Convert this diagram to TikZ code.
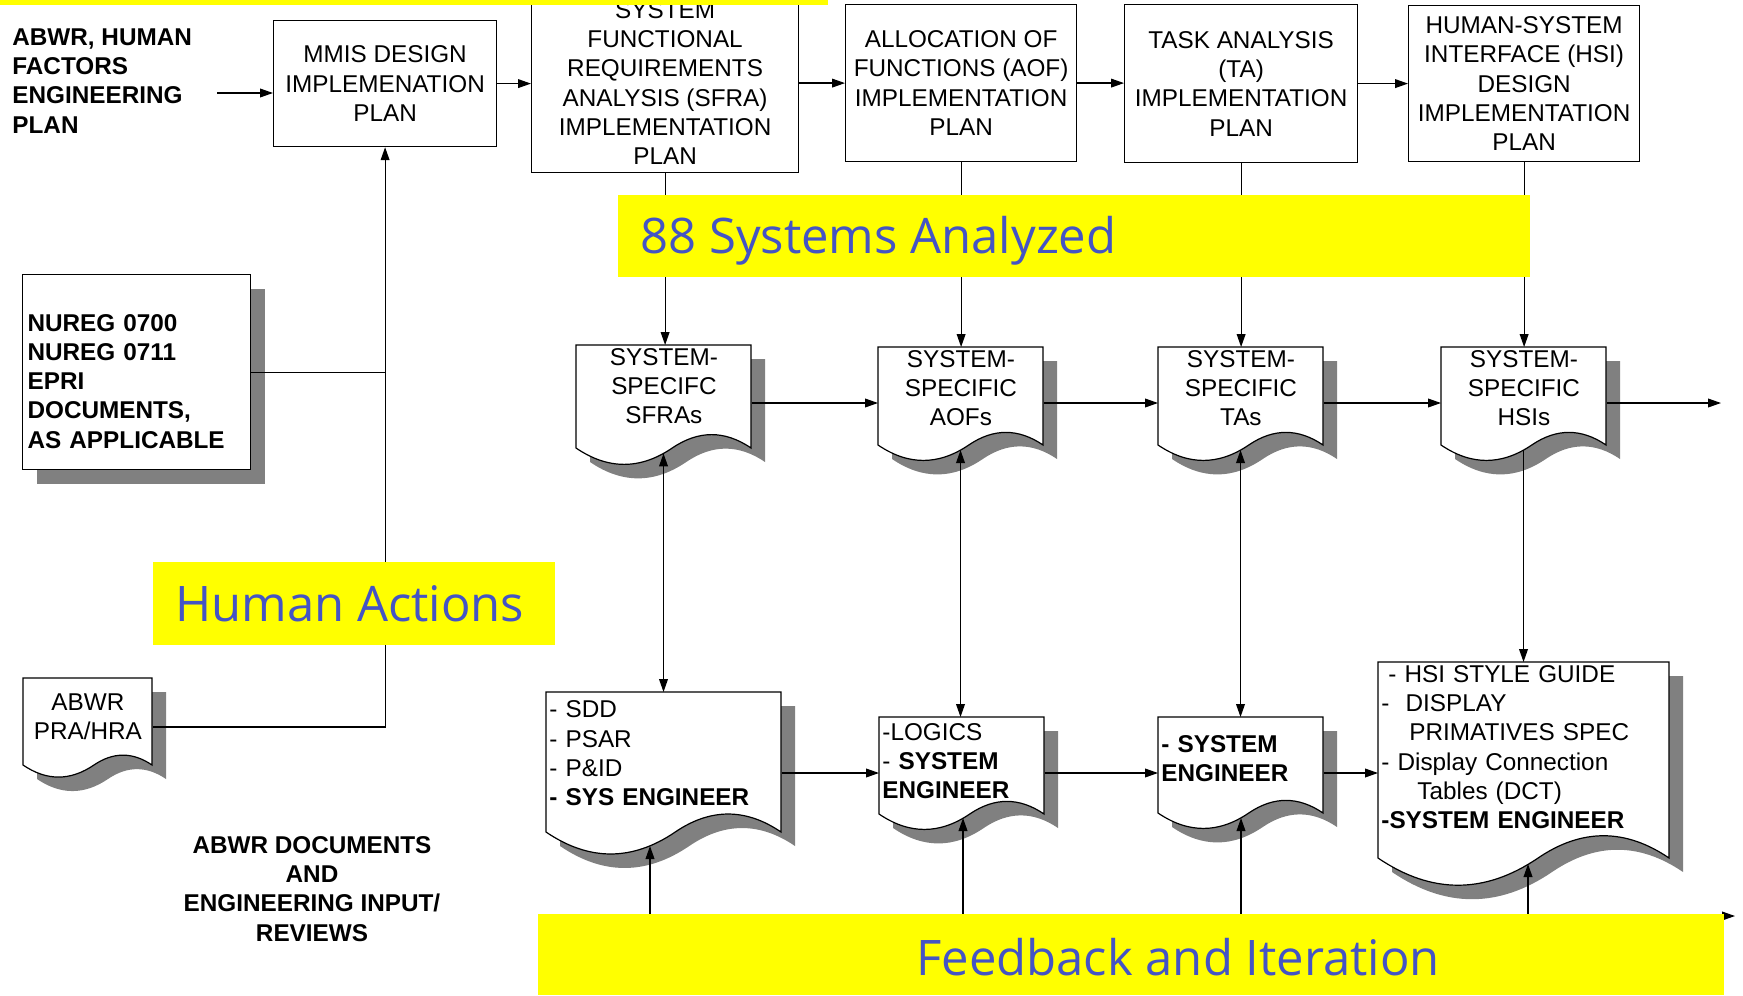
\documentclass[tikz,border=0pt]{standalone}
\usepackage{fontspec}
\setmainfont{Liberation Sans}
\newfontfamily\bandfamily{Open Sans}
\usetikzlibrary{arrows.meta,calc}

\definecolor{bandyellow}{RGB}{255,255,0}
\definecolor{bandblue}{RGB}{68,84,196}
\definecolor{docshadow}{RGB}{128,128,128}

\newcommand{\boxfont}{\fontsize{12.15pt}{14.65pt}\selectfont}
\newcommand{\bandfont}{\bandfamily\fontsize{24.5pt}{29pt}\selectfont}

\tikzset{
  conn/.style={line width=.6pt},
  arr/.style={conn,-{Triangle[length=6.5pt,width=4.4pt]}},
  arrboth/.style={conn,{Triangle[length=6.5pt,width=4.4pt]}-{Triangle[length=6.5pt,width=4.4pt]}},
  planbox/.style={draw,line width=.6pt,fill=white,align=center,anchor=north west,inner sep=0pt,font=\boxfont},
  docline/.style={draw,line width=.6pt,fill=white},
  docbox/.style={anchor=north west,inner xsep=1.5pt,inner ysep=1.5pt,font=\boxfont},
  band/.style={fill=bandyellow},
  bandtext/.style={anchor=base west,inner sep=0pt,text=bandblue,font=\bandfont},
}

% document shape: name, left, top, right, wave line, text
\newcommand{\docnode}[7][]{%
  \pgfmathsetmacro{\dw}{#5-#3}%
  \pgfmathsetmacro{\dj}{#3+0.55*\dw}%
  \pgfmathsetmacro{\hx}{0.15*\dw}%
  \pgfmathsetmacro{\hy}{0.6*\wavek*\dw}%
  \pgfmathsetmacro{\lx}{0.55*\dw/3}%
  \pgfmathsetmacro{\ly}{0.7333*\wavek*\dw}%
  \pgfmathsetmacro{\tw}{0.5*\dw-3}%
  \filldraw[docline,preaction={fill=docshadow,transform canvas={xshift=7pt,yshift=-7pt}}]
    (#3,#4) -- (#5,#4) -- (#5,#6)
    .. controls ({#5-\hx},{#6-\hy}) and ({\dj+\hx},{#6-\hy}) .. (\dj,#6)
    .. controls ({\dj-\lx},{#6+\ly}) and ({#3+\lx},{#6+\ly}) .. (#3,#6) -- cycle;
  \node[docbox,text width=\tw pt,#1] (#2) at (#3,#4) {#7};
  \coordinate (#2-wave) at ({(#3+#5)/2},{#6+0.1818*\wavek*\dw});
}

\begin{document}
\begin{tikzpicture}[x=0.5pt,y=-0.5pt]
    \pgfmathsetmacro{\wavek}{0.17}
    \clip (0,0) rectangle (1743,995);

    % plans
    \node[anchor=north west,inner sep=0pt,align=left,font=\boxfont\bfseries] (hfeplan) at (12,28) {ABWR, HUMAN\\FACTORS\\ENGINEERING\\PLAN};
    \node[planbox,minimum width=111.5pt,minimum height=63pt] (mmis) at (273,20) {MMIS DESIGN\\IMPLEMENATION\\PLAN};
    \node[planbox,minimum width=133.5pt,minimum height=89.5pt] (sfra) at (531,-7) {SYSTEM\\FUNCTIONAL\\REQUIREMENTS\\ANALYSIS (SFRA)\\IMPLEMENTATION\\PLAN};
    \node[planbox,minimum width=115.5pt,minimum height=78.5pt] (aof) at (845,4) {ALLOCATION OF\\FUNCTIONS (AOF)\\IMPLEMENTATION\\PLAN};
    \node[planbox,minimum width=116.5pt,minimum height=79pt] (ta) at (1124,4) {TASK ANALYSIS\\(TA)\\IMPLEMENTATION\\PLAN};
    \node[planbox,minimum width=115.5pt,minimum height=78pt] (hsi) at (1408,5) {HUMAN-SYSTEM\\INTERFACE (HSI)\\DESIGN\\IMPLEMENTATION\\PLAN};

    \node[planbox,align=left,inner xsep=2.5pt,text width=109pt,minimum width=114pt,minimum height=97.5pt,font=\boxfont\bfseries,
      preaction={fill=docshadow,transform canvas={xshift=7pt,yshift=-7pt}}] (nureg) at (22,274)
      {\rule{0pt}{17.7pt}NUREG 0700\\NUREG 0711\\EPRI\\DOCUMENTS,\\AS APPLICABLE};

    % documents
    \docnode[align=center]{sfras}{576}{345}{751}{448}{SYSTEM-\\SPECIFC\\SFRAs}
    \docnode[align=center]{aofs}{878}{347}{1043}{445}{SYSTEM-\\SPECIFIC\\AOFs}
    \docnode[align=center]{tas}{1158}{347}{1323}{445}{SYSTEM-\\SPECIFIC\\TAs}
    \docnode[align=center]{hsis}{1441}{347}{1606}{445}{SYSTEM-\\SPECIFIC\\HSIs}
    \docnode[align=center,inner ysep=7.5pt]{prahra}{23}{678}{152}{765}{ABWR\\PRA/HRA}
    \docnode[align=left,inner ysep=4.3pt]{sdd}{546}{692}{781}{832}{- SDD\\- PSAR\\- P\&ID\\\textbf{- SYS ENGINEER}}
    \docnode[align=left,inner ysep=3pt]{logics}{879}{717}{1044}{814}{-LOGICS\\- \textbf{SYSTEM}\\\textbf{ENGINEER}}
    \docnode[align=left,inner ysep=9pt]{syseng}{1158}{717}{1323}{813}{\textbf{- SYSTEM}\\\textbf{ENGINEER}}
    \docnode[align=left]{hsiguide}{1378}{662}{1669}{858}{\hspace*{3.5pt}- HSI STYLE GUIDE\\-\ \ DISPLAY\\\hspace*{14pt}PRIMATIVES SPEC\\- Display Connection\\\hspace*{18pt}Tables (DCT)\\\textbf{-SYSTEM ENGINEER}}

    \node[anchor=north,inner sep=0pt,align=center,font=\boxfont\bfseries] (abwrdocs) at (312,836) {ABWR DOCUMENTS\\AND\\ENGINEERING INPUT/\\REVIEWS};

    % top row
    \coordinate (hfe-out) at (217,93);
    \draw[arr] (hfe-out) -- (hfe-out -| mmis.west);
    \draw[arr] (mmis.east) -- (mmis.east -| sfra.west);
    \draw[arr] (sfra.east) -- (sfra.east -| aof.west);
    \draw[arr] (aof.east) -- (aof.east -| ta.west);
    \draw[arr] (ta.east) -- (ta.east -| hsi.west);
    \draw[arr] (sfra.south) -- (sfra.south |- sfras.north);
    \draw[arr] (aof.south) -- (aof.south |- aofs.north);
    \draw[arr] (ta.south) -- (ta.south |- tas.north);
    \draw[arr] (hsi.south) -- (hsi.south |- hsis.north);

    % inputs to the MMIS plan
    \coordinate (prahra-r) at ($(prahra.north east)+(0,49)$);
    \draw[arr] (prahra-r) -| (mmis.south);
    \draw[conn] (nureg.east) -- (nureg.east -| mmis.south);

    % middle row
    \coordinate (row2) at (0,403);
    \coordinate (hsis-out) at (1721,403);
    \draw[arr] (sfras.east |- row2) -- (aofs.west |- row2);
    \draw[arr] (aofs.east |- row2) -- (tas.west |- row2);
    \draw[arr] (tas.east |- row2) -- (hsis.west |- row2);
    \draw[arr] (hsis.east |- row2) -- (hsis-out);
    \draw[arrboth] (sfras-wave) -- (sfras-wave |- sdd.north);
    \draw[arrboth] (aofs-wave) -- (aofs-wave |- logics.north);
    \draw[arrboth] (tas-wave) -- (tas-wave |- syseng.north);
    \draw[arr] (hsis-wave) -- (hsis-wave |- hsiguide.north);

    % bottom row
    \coordinate (row3) at (0,773);
    \draw[arr] (sdd.east |- row3) -- (logics.west |- row3);
    \draw[arr] (logics.east |- row3) -- (syseng.west |- row3);
    \draw[arr] (syseng.east |- row3) -- (hsiguide.west |- row3);

    % feedback
    \coordinate (fb-a) at (650,916);
    \coordinate (fb-b) at (963,916);
    \coordinate (fb-c) at (1241,916);
    \coordinate (fb-d) at (1528,916);
    \coordinate (fb-end) at (1735,916);
    \coordinate (sdd-fb) at (650,846);
    \coordinate (logics-fb) at (963,818);
    \coordinate (syseng-fb) at (1241,818);
    \coordinate (hsiguide-fb) at (1528,864);
    \draw[arr] (fb-a) -- (fb-end);
    \draw[arr] (fb-a) -- (sdd-fb);
    \draw[arr] (fb-b) -- (logics-fb);
    \draw[arr] (fb-c) -- (syseng-fb);
    \draw[arr] (fb-d) -- (hsiguide-fb);

    % highlights
    \fill[band] (0,0) rectangle (828,5);
    \fill[band] (618,195) rectangle (1530,277);
    \node[bandtext] (sys88) at (640,253) {88 Systems Analyzed};
    \fill[band] (153,562) rectangle (555,645);
    \node[bandtext] (humact) at (175,621) {Human Actions};
    \fill[band] (538,914) rectangle (1724,995);
    \node[bandtext] (feedback) at (916,975) {Feedback and Iteration};
\end{tikzpicture}
\end{document}
